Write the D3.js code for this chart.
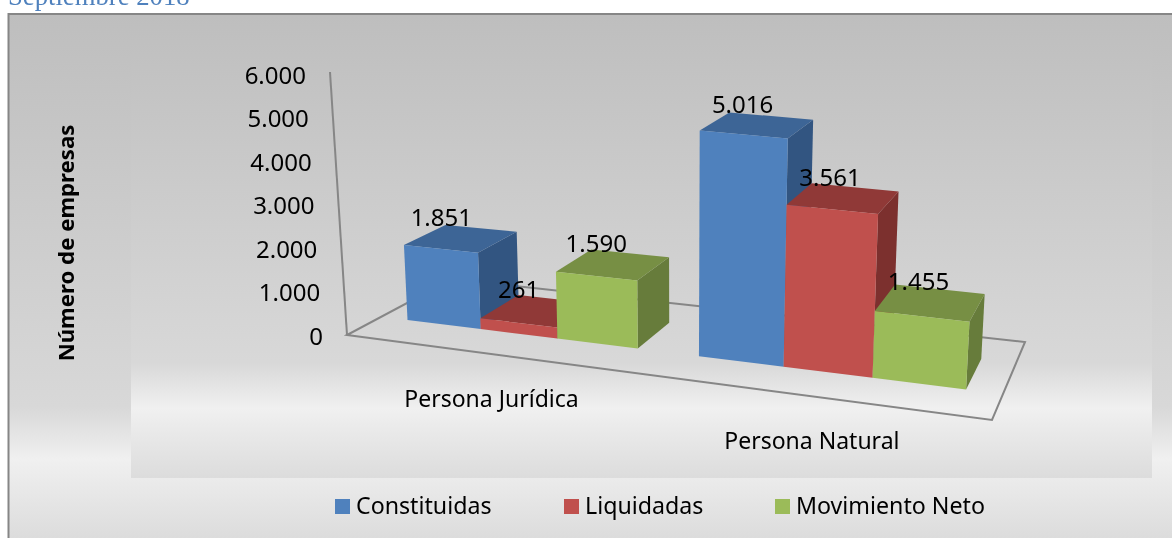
<!DOCTYPE html>
<html>
<head>
<meta charset="utf-8">
<script src="https://cdn.jsdelivr.net/npm/d3@7"></script>
<style>
  html, body { margin: 0; padding: 0; background: #fff; overflow: hidden; }
  text { font-family: "Noto Sans", "Open Sans", sans-serif; fill: #000; }
</style>
</head>
<body>
<div id="chart"></div>
<script>
// datos
const categories = ["Persona Jurídica", "Persona Natural"];
const seriesNames = ["Constituidas", "Liquidadas", "Movimiento Neto"];
const constituidas = [1851, 5016];
const liquidadas = [261, 3561];
const movimientoNeto = [1590, 1455];
const yTicks = [0, 1000, 2000, 3000, 4000, 5000, 6000];

const seriesValues = [constituidas, liquidadas, movimientoNeto];
const colors = [
  { front: "#4f81bd", top: "#3d6596", side: "#325581" },
  { front: "#c0504d", top: "#903937", side: "#7c302e" },
  { front: "#9bbb59", top: "#778f44", side: "#677c3b" }
];

const width = 1172, height = 538;
const svg = d3.select("#chart").append("svg")
  .attr("width", width)
  .attr("height", height)
  .style("display", "block")
  .style("filter", "blur(0.4px)");

// degradados del fondo
const defs = svg.append("defs");
const stops = [[0, "#bebebe"], [0.75, "#d8d8d8"], [0.85, "#f0f0f0"], [1, "#dcdcdc"]];
const bg = defs.append("linearGradient").attr("id", "bg")
  .attr("x1", 0).attr("y1", 0).attr("x2", 0).attr("y2", 1);
bg.selectAll("stop").data(stops).enter().append("stop")
  .attr("offset", d => d[0])
  .attr("stop-color", d => d[1]);

svg.append("rect").attr("x", 9).attr("y", 14).attr("width", width - 9).attr("height", height - 14).attr("fill", "url(#bg)");
svg.append("rect").attr("x", 131).attr("y", 15).attr("width", 1021).attr("height", 463).attr("fill", "url(#bg)");
svg.append("path").attr("d", "M8.5,538V14H1172").attr("fill", "none").attr("stroke", "#868686").attr("stroke-width", 2);

// titulo cortado arriba
svg.append("text")
  .attr("x", 8).attr("y", 5)
  .attr("font-size", 26.7)
  .style("font-family", "'Liberation Serif', serif")
  .style("fill", "#4f81bd")
  .text("Septiembre 2018");

// proyeccion del piso: (u,v) en [0,1] -> pantalla
const floor = { A: [347, 335], B: [992, 420], C: [1025, 342], D: [452, 279] };
const dx1 = floor.B[0] - floor.C[0], dx2 = floor.D[0] - floor.C[0];
const dy1 = floor.B[1] - floor.C[1], dy2 = floor.D[1] - floor.C[1];
const sx = floor.A[0] - floor.B[0] + floor.C[0] - floor.D[0];
const sy = floor.A[1] - floor.B[1] + floor.C[1] - floor.D[1];
const den = dx1 * dy2 - dx2 * dy1;
const g = (sx * dy2 - dx2 * sy) / den;
const h = (dx1 * sy - sx * dy1) / den;
const a = floor.B[0] - floor.A[0] + g * floor.B[0];
const b = floor.D[0] - floor.A[0] + h * floor.D[0];
const d = floor.B[1] - floor.A[1] + g * floor.B[1];
const e = floor.D[1] - floor.A[1] + h * floor.D[1];

// ajustes de perspectiva
const uWarp = d3.scaleLinear().domain([0.05, 0.45, 0.55, 0.95]).range([0.05, 0.457, 0.556, 0.95]);
const heightPerUnit = d3.scaleLinear().domain([0.05, 0.45, 0.55, 0.95]).range([0.0405, 0.0428, 0.045, 0.0465]);
const frontV = 0.3;
const vanishX = 680, tilt = 0.000175;

function project(u0, v, value) {
  const u = uWarp(u0);
  const w = g * u + h * v + 1;
  const w0 = g * u + h * frontV + 1;
  const px = (a * u + b * v + floor.A[0]) / w;
  const py = (d * u + e * v + floor.A[1]) / w;
  const H = value * heightPerUnit(u0) * Math.pow(w0 / w, 0.7);
  return [px + (px - vanishX) * tilt * H, py - H];
}

// escalas
const uCat = d3.scaleBand().domain(categories).range([0, 1]).paddingInner(0.2).paddingOuter(0.1);
const uSerie = d3.scaleBand().domain(seriesNames).range([0, uCat.bandwidth()]);
const vBar = d3.scaleLinear().domain([0, 1]).range([frontV, 0.7]);
const axisY = d3.scaleLinear().domain([0, 6000]).range([335, 72]);
const axisX = d3.scaleLinear().domain([0, 6000]).range([347, 330]);
const labelY = d3.scaleLinear().domain([0, 6000]).range([336, 75]);
const labelShift = d3.scaleLinear().domain([0.1, 0.9]).range([-20, -12]);
const fmt = d3.formatLocale({ decimal: ",", thousands: ".", grouping: [3], currency: ["", ""] }).format(",");
const line = d3.line();

// piso y eje
svg.append("path")
  .attr("d", line([floor.A, floor.B, floor.C, floor.D]) + "Z")
  .attr("fill", "none").attr("stroke", "#868686").attr("stroke-width", 2);
svg.append("line")
  .attr("x1", axisX(0)).attr("y1", axisY(0))
  .attr("x2", axisX(6000)).attr("y2", axisY(6000))
  .attr("stroke", "#868686").attr("stroke-width", 2);

svg.selectAll(".tick-label").data(yTicks).enter().append("text")
  .attr("class", "tick-label")
  .attr("x", t => axisX(t) - 24)
  .attr("y", t => labelY(t))
  .attr("dy", "0.36em")
  .attr("text-anchor", "end")
  .attr("font-size", 24)
  .text(t => fmt(t));

// barras
const bars = [];
categories.forEach((cat, ci) => {
  seriesNames.forEach((name, si) => {
    bars.push({ cat, name, si, value: seriesValues[si][ci] });
  });
});

const barG = svg.append("g").selectAll("g").data(bars).enter().append("g");

function corners(bar) {
  const u0 = uCat(bar.cat) + uSerie(bar.name);
  const u1 = u0 + uSerie.bandwidth();
  const v0 = vBar(0), v1 = vBar(1);
  return { u0, u1, v0, v1 };
}

barG.append("path")
  .attr("fill", b => colors[b.si].side)
  .attr("d", b => {
    const c = corners(b);
    return line([project(c.u1, c.v0, 0), project(c.u1, c.v1, 0), project(c.u1, c.v1, b.value), project(c.u1, c.v0, b.value)]) + "Z";
  });
barG.append("path")
  .attr("fill", b => colors[b.si].top)
  .attr("d", b => {
    const c = corners(b);
    return line([project(c.u0, c.v0, b.value), project(c.u1, c.v0, b.value), project(c.u1, c.v1, b.value), project(c.u0, c.v1, b.value)]) + "Z";
  });
barG.append("path")
  .attr("fill", b => colors[b.si].front)
  .attr("d", b => {
    const c = corners(b);
    return line([project(c.u0, c.v0, 0), project(c.u1, c.v0, 0), project(c.u1, c.v0, b.value), project(c.u0, c.v0, b.value)]) + "Z";
  });

// etiquetas de datos
function barCenter(b) {
  return uCat(b.cat) + uSerie(b.name) + uSerie.bandwidth() / 2;
}
svg.selectAll(".data-label").data(bars).enter().append("text")
  .attr("class", "data-label")
  .attr("x", b => project(barCenter(b), vBar(0.5), b.value)[0] + labelShift(barCenter(b)))
  .attr("y", b => project(barCenter(b), vBar(0.5), b.value)[1] - 21)
  .attr("dy", "0.36em")
  .attr("text-anchor", "middle")
  .attr("font-size", 24)
  .text(b => fmt(b.value));

// etiquetas de categoria
svg.selectAll(".cat-label").data(categories).enter().append("text")
  .attr("class", "cat-label")
  .attr("x", c => project(uCat(c) + uCat.bandwidth() / 2, 0, 0)[0] + 3)
  .attr("y", c => project(uCat(c) + uCat.bandwidth() / 2, 0, 0)[1] + 45)
  .attr("dy", "0.36em")
  .attr("text-anchor", "middle")
  .attr("font-size", 23)
  .text(c => c);

// titulo del eje
svg.append("text")
  .attr("transform", "translate(66,243) rotate(-90)")
  .attr("dy", "0.36em")
  .attr("text-anchor", "middle")
  .attr("font-size", 22.2)
  .attr("font-weight", "bold")
  .text("Número de empresas");

// leyenda
const legendX = d3.scaleOrdinal().domain(seriesNames).range([335, 564, 775]);
const legend = svg.selectAll(".legend").data(seriesNames).enter().append("g")
  .attr("class", "legend")
  .attr("transform", n => `translate(${legendX(n)},499)`);
legend.append("rect")
  .attr("width", 15).attr("height", 15)
  .attr("fill", (n, i) => colors[i].front);
legend.append("text")
  .attr("x", 21).attr("y", 15)
  .attr("font-size", 23.2)
  .text(n => n);
</script>
</body>
</html>
